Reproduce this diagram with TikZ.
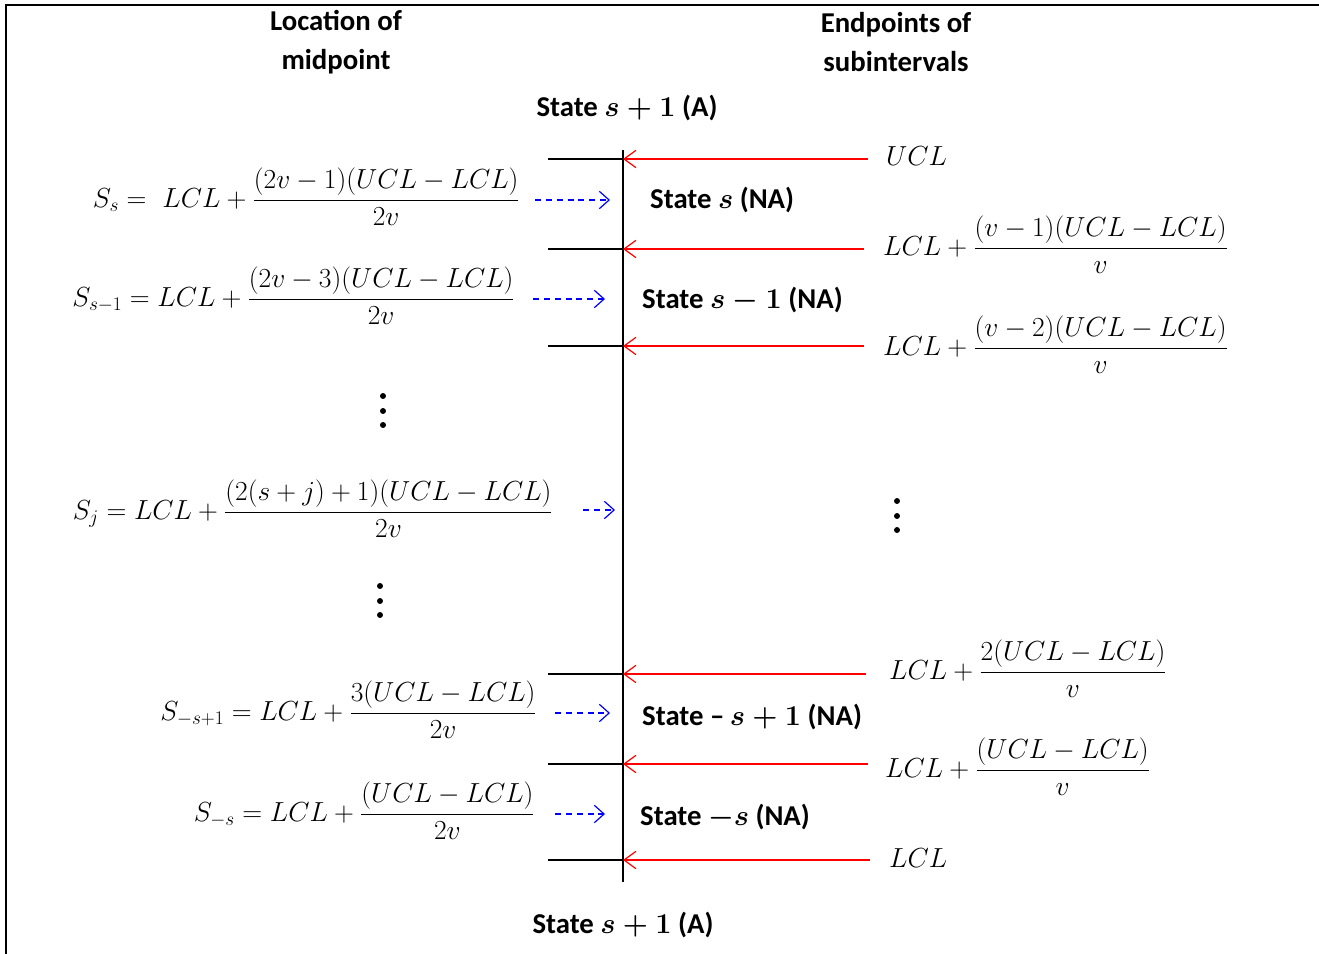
\RequirePackage{fix-cm}
\documentclass[tikz,border=0pt]{standalone}
\usepackage{amsmath}
\usepackage{fontspec}
\newfontfamily\calib{Carlito}
\usetikzlibrary{arrows.meta}
\begin{document}
\begin{tikzpicture}[x=0.9215pt,y=-0.9215pt,
 txt/.style={font=\calib\bfseries\boldmath\fontsize{26.5}{36}\selectfont, inner sep=0pt},
 mth/.style={font=\fontsize{25.4}{30}\selectfont, inner sep=0pt},
 tick/.style={line width=1.5pt, black},
 frame/.style={line width=2.3pt, black},
 vdot/.style={circle, fill=black, inner sep=0pt, minimum size=5.5pt},
 redarr/.style={line width=1.5pt, red, -{Straight Barb[length=11pt,width=16pt,line width=1.1pt]}},
 bluarr/.style={line width=1.3pt, blue, dash pattern=on 5.5pt off 4.5pt, -{Straight Barb[length=9pt,width=16pt,line width=1.1pt]}},
]
\useasboundingbox (0,0) rectangle (1319,954);
% frame
\coordinate (fb) at (6,954); \coordinate (fc) at (6,5); \coordinate (fr) at (1319,5);
\draw[frame] (fb) -- (fc) -- (fr);

% headings
\node[txt, align=center] (hl) at (336,42) {Location of\\midpoint};
\node[txt, align=center] (hr) at (896,42) {Endpoints of\\subintervals};
\node[txt] (top) at (627,108) {State $s+1$ (A)};
\node[txt] (bot) at (623,925) {State $s+1$ (A)};

% vertical axis
\coordinate (vt) at (623,150); \coordinate (vb) at (623,882);
\draw[tick] (vt) -- (vb);

% ticks and red arrows
\foreach \y/\r [count=\i] in {159/868,249/864,346/864,674/866,764/868,860/870} {
  \coordinate (L\i) at (548,\y); \coordinate (M\i) at (623,\y); \coordinate (R\i) at (\r,\y);
  \draw[tick] (L\i) -- (M\i);
  \draw[redarr] (R\i) -- (M\i);
}

% right labels
\node[mth, anchor=base west] (e1) at (886,165) {$UCL$};
\node[mth, anchor=base west] (e2) at (883,255) {$LCL+\dfrac{(v-1)(UCL-LCL)}{v}$};
\node[mth, anchor=base west] (e3) at (883,355) {$LCL+\dfrac{(v-2)(UCL-LCL)}{v}$};
\node[mth, anchor=base west] (e5) at (889,679) {$LCL+\dfrac{2(UCL-LCL)}{v}$};
\node[mth, anchor=base west] (e6) at (885,777) {$LCL+\dfrac{(UCL-LCL)}{v}$};
\node[mth, anchor=base west] (e7) at (889,867) {$LCL$};

% left formulas
\node[mth, anchor=base east] (f1) at (520,207) {$S_s=\ LCL+\dfrac{(2v-1)(UCL-LCL)}{2v}$};
\node[mth, anchor=base east] (f2) at (515,306) {$S_{s-1}=LCL+\dfrac{(2v-3)(UCL-LCL)}{2v}$};
\node[mth, anchor=base east] (f3) at (553,519) {$S_j=LCL+\dfrac{(2(s+j)+1)(UCL-LCL)}{2v}$};
\node[mth, anchor=base east] (f4) at (537,720) {$S_{-s+1}=LCL+\dfrac{3(UCL-LCL)}{2v}$};
\node[mth, anchor=base east] (f5) at (535,821) {$S_{-s}=LCL+\dfrac{(UCL-LCL)}{2v}$};

% vertical ellipses
\foreach \x/\y [count=\i] in {383/396,383/411,383/425,380/586,380/601,380/615,897/501,897/516,897/530} {
  \node[vdot] (dot\i) at (\x,\y) {};
}

% blue dashed arrows
\foreach \a/\b/\y [count=\i] in {535/610/200,533/605/299,583/615/510,555/610/713,555/605/814} {
  \coordinate (ba\i) at (\a,\y); \coordinate (bb\i) at (\b,\y);
  \draw[bluarr] (ba\i) -- (bb\i);
}

% state labels
\node[txt, anchor=west] (s1) at (650,200) {State $s$ (NA)};
\node[txt, anchor=west] (s2) at (642,300) {State $s-1$ (NA)};
\node[txt, anchor=west] (s3) at (642,717) {State –$\,s+1$ (NA)};
\node[txt, anchor=west] (s4) at (640,817) {State $-s$ (NA)};
\end{tikzpicture}
\end{document}
